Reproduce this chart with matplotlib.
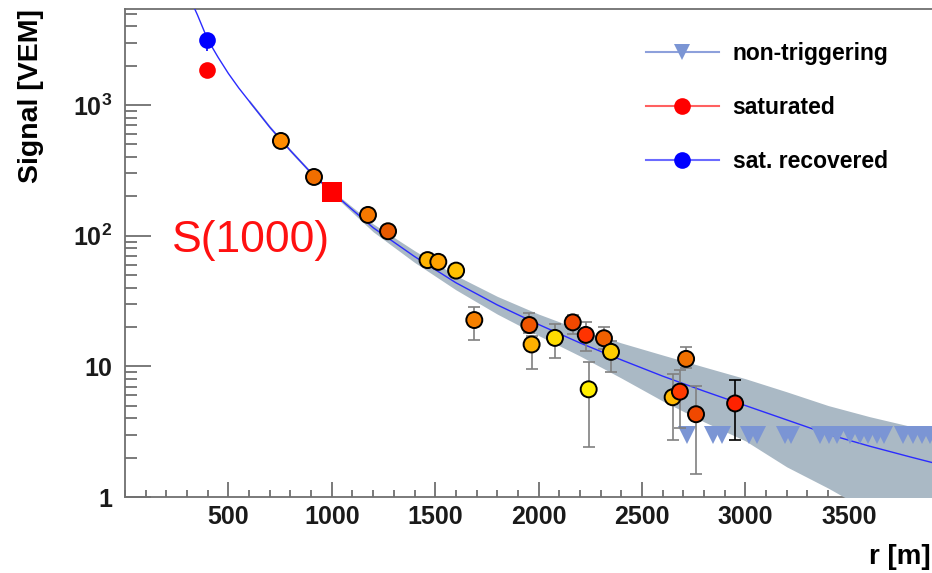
"""Lateral distribution of station signals with the LDF fit and its uncertainty band."""
import matplotlib

matplotlib.use("Agg")
import matplotlib.pyplot as plt
from matplotlib.lines import Line2D
from matplotlib.ticker import FixedLocator, LogLocator, MultipleLocator, NullFormatter

plt.rcParams["font.family"] = "Liberation Sans"
plt.rcParams["mathtext.fontset"] = "custom"
plt.rcParams["mathtext.bf"] = "Liberation Sans:bold"
plt.rcParams["mathtext.rm"] = "Liberation Sans:bold"
plt.rcParams["mathtext.default"] = "bf"

# triggered stations: distance [m], signal [VEM], error bar ends, fill colour
station_r = [754, 914, 1175, 1272, 1463, 1515, 1601, 1689, 1955, 1966, 2079,
             2165, 2228, 2316, 2350, 2242, 2648, 2683, 2713, 2761, 2950]
station_s = [530, 281, 144, 108, 65, 63, 54, 22.6, 20.7, 14.7, 16.5,
             21.7, 17.4, 16.4, 12.9, 6.67, 5.8, 6.4, 11.4, 4.3, 5.2]
station_lo = [530, 281, 144, 108, 65, 63, 54, 15.9, 18.0, 9.5, 11.5,
              17.7, 13.1, 13.5, 9.1, 2.43, 2.73, 3.36, 9.7, 1.49, 2.73]
station_hi = [530, 281, 144, 108, 65, 63, 54, 28.6, 25.4, 17.0, 21.0,
              24.7, 21.9, 20.1, 15.5, 10.7, 8.7, 9.4, 14.1, 7.1, 7.8]
station_color = ["#ff8c00", "#f06e00", "#f57800", "#e85a00", "#ffb400", "#ffa200",
                 "#ffc000", "#f58000", "#f05500", "#ffb000", "#ffdc00", "#f04800",
                 "#ff3300", "#f06000", "#ffcc00", "#ffee00", "#ffb800", "#ff3a00",
                 "#f07000", "#f04800", "#ff2200"]
station_bar = ["#808080"] * 20 + ["#000000"]

# saturated station and its recovered signal
sat_r = 397
sat_s = 1850
recovered_s = 3140
recovered_lo = 2600
recovered_hi = 3300

# non-triggering stations (upper limits)
silent_r = [2718, 2843, 2887, 3017, 3056, 3191, 3220, 3361, 3404, 3443,
            3505, 3554, 3593, 3636, 3670, 3762, 3810, 3854, 3893]
silent_s = [3.0] * len(silent_r)

# fitted lateral distribution function
fit_r = [330, 350, 400, 450, 500, 550, 600, 650, 700, 800, 900, 1000, 1200,
         1400, 1600, 1800, 2000, 2200, 2400, 2600, 2800, 3000, 3200, 3400,
         3600, 3800, 3900]
fit_s = [5750, 4900, 3160, 2317, 1740, 1349, 1070, 851, 676, 447, 302, 216,
         115, 69.2, 43.6, 29.5, 20.9, 15.1, 11.2, 8.41, 6.46, 5.01, 3.89, 3.02,
         2.45, 2.02, 1.84]

# uncertainty band of the fit
band_r = [600, 700, 800, 900, 1000, 1200, 1400, 1600, 1800, 2000, 2200,
          2400, 2600, 2800, 3000, 3200, 3400, 3600, 3800, 3900]
band_hi = [1102, 695, 459, 310, 222, 123, 76.7, 49.5, 34.3, 25.1, 19.1,
           15.1, 12.2, 9.89, 8.04, 6.38, 5.01, 4.12, 3.47, 3.20]
band_lo = [1042, 658, 434.5, 294, 210, 107, 62.4, 38.5, 25.1, 17.2, 12.0,
           8.13, 5.43, 3.76, 2.69, 1.70, 1.17, 0.776, 0.447, 0.316]

s1000_r = 1000
s1000_s = 216

x_ticks = [500, 1000, 1500, 2000, 2500, 3000, 3500]
y_ticks = [1, 10, 100, 1000]
y_tick_labels = ["1", "10", r"$10^{2}$", r"$10^{3}$"]

fig = plt.figure(figsize=(9.32, 5.73), dpi=100)
ax = fig.add_axes([0.1341, 0.1326, 0.8659, 0.8517])
ax.set_yscale("log")
ax.set_xlim(0, 3902)
ax.set_ylim(1, 5420)

ax.fill_between(band_r, band_lo, band_hi, color="#aab9c5", lw=0, zorder=3)
ax.plot(fit_r, fit_s, color="#2b2bff", lw=1.0, zorder=3.2)
ax.plot(silent_r, silent_s, "v", ls="none", color="#7b95d4", ms=12.5, mew=0, zorder=3.5)

for r, s, lo, hi, bc in zip(station_r, station_s, station_lo, station_hi, station_bar):
    ax.errorbar([r], [s], yerr=[[s - lo], [hi - s]], fmt="none", ecolor=bc,
                elinewidth=1.2, capsize=4.3, capthick=1.2, zorder=4)
ax.scatter(station_r, station_s, s=11.5 ** 2, c=station_color, edgecolors="black",
           linewidths=1.4, zorder=5)

ax.errorbar([sat_r], [recovered_s],
            yerr=[[recovered_s - recovered_lo], [recovered_hi - recovered_s]],
            fmt="o", color="#0000ff", ms=12, mew=0, elinewidth=1.2, capsize=4,
            zorder=5)
ax.plot([sat_r], [sat_s], "o", color="#ff0000", ms=12, mew=0, zorder=5)
ax.plot([s1000_r], [s1000_s], "s", color="#ff0000", ms=15, mew=0, zorder=6)
ax.text(610, 75, "S(1000)", color="#ff1010", fontsize=32, ha="center",
        va="baseline", zorder=6)

# axes frame and ticks
for side in ("left", "bottom", "top"):
    ax.spines[side].set_color("#707070")
    ax.spines[side].set_linewidth(1.3)
ax.spines["right"].set_visible(False)

ax.xaxis.set_major_locator(FixedLocator(x_ticks))
ax.xaxis.set_minor_locator(MultipleLocator(100))
ax.yaxis.set_major_locator(FixedLocator(y_ticks))
ax.yaxis.set_minor_locator(LogLocator(base=10, subs=range(2, 10)))
ax.yaxis.set_minor_formatter(NullFormatter())
ax.set_yticklabels(y_tick_labels)
ax.tick_params(axis="both", which="both", direction="in", color="#707070",
               top=False, right=False, labelsize=18)
ax.tick_params(axis="y", which="major", length=19, width=1.3, pad=9)
ax.tick_params(axis="y", which="minor", length=8.6, width=1.3)
ax.tick_params(axis="x", which="major", length=10.8, width=1.3, pad=6)
ax.tick_params(axis="x", which="minor", length=5, width=1.3)
for lbl in ax.get_xticklabels() + ax.get_yticklabels():
    lbl.set_fontweight("bold")
    lbl.set_color("#1a1a1a")

ax.set_ylabel("Signal [VEM]", fontsize=20.5, fontweight="bold", loc="top")
ax.yaxis.set_label_coords(-0.10, 1.0)
ax.set_xlabel("r [m]", fontsize=20, fontweight="bold", loc="right")
ax.xaxis.set_label_coords(0.998, -0.096)

handles = [
    Line2D([], [], color="#8da0db", lw=1.5, marker="v", ms=12, mfc="#7b95d4", mew=0),
    Line2D([], [], color="#ff6060", lw=1.5, marker="o", ms=12, mfc="#ff0000", mew=0),
    Line2D([], [], color="#6b6bff", lw=1.5, marker="o", ms=12, mfc="#0000ff", mew=0),
]
ax.legend(handles, ["non-triggering", "saturated", "sat. recovered"],
          loc="upper left", bbox_to_anchor=(0.645, 0.933), frameon=False,
          prop={"weight": "bold", "size": 16.5}, handlelength=3.2,
          handletextpad=0.6, labelspacing=1.35, borderpad=0, borderaxespad=0)

fig.savefig("out.png", dpi=100)
